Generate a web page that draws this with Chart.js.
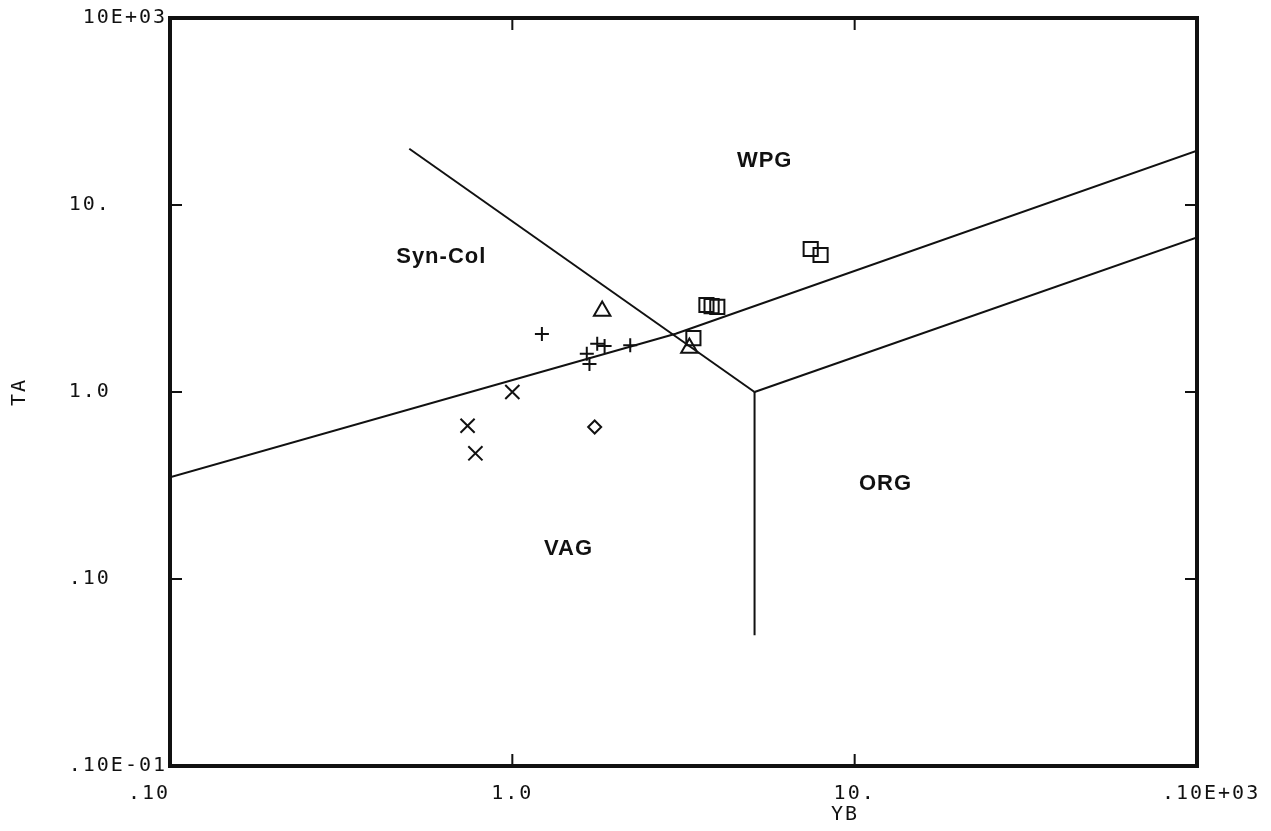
<!DOCTYPE html>
<html>
<head>
<meta charset="utf-8">
<script src="https://cdn.jsdelivr.net/npm/chart.js@4.4.0/dist/chart.umd.min.js"></script>
<style>
html, body { margin: 0; padding: 0; background: #fff; }
</style>
</head>
<body>
<canvas id="ta_yb" width="1271" height="831"></canvas>
<script>
// axis ticks and the labels the plotter printed for them
const xTicks = [0.1, 1, 10, 100]
const xTickLabels = ['.10', '1.0', '10.', '.10E+03']
const yTicks = [0.01, 0.1, 1, 10, 100]
const yTickLabels = ['.10E-01', '.10', '1.0', '10.', '10E+03']

// samples, one array for each marker
const crossPts = [{x: 0.74, y: 0.66}, {x: 0.78, y: 0.47}, {x: 1.0, y: 1.0}]
const plusPts = [{x: 1.22, y: 2.04}, {x: 1.77, y: 1.81}, {x: 1.86, y: 1.76},
                 {x: 2.21, y: 1.78}, {x: 1.65, y: 1.60}, {x: 1.68, y: 1.41}]
const trianglePts = [{x: 1.83, y: 2.71}, {x: 3.29, y: 1.72}]
const diamondPts = [{x: 1.74, y: 0.65}]
const squarePts = [{x: 3.38, y: 1.94}, {x: 3.69, y: 2.92}, {x: 3.82, y: 2.88},
                   {x: 3.97, y: 2.85}, {x: 7.44, y: 5.82}, {x: 7.95, y: 5.40}]

// field boundaries
const boundLower = [{x: 0.1, y: 0.35}, {x: 3, y: 2.05}, {x: 100, y: 19.5}]
const boundSynCol = [{x: 0.5, y: 20}, {x: 5.1, y: 1}]
const boundOrg = [{x: 5.1, y: 1}, {x: 100, y: 6.7}]
const boundVag = [{x: 5.1, y: 1}, {x: 5.1, y: 0.05}]

// field names and where they sit (data units)
const fieldNames = ['WPG', 'Syn-Col', 'VAG', 'ORG']
const fieldX = [5.46, 0.62, 1.46, 12.3]
const fieldY = [17.2, 5.27, 0.145, 0.322]

const ink = '#111'
const monoFont = {family: '"DejaVu Sans Mono", monospace', size: 20}

function boundary(pts) {
    return {
        data: pts, showLine: true, fill: false, tension: 0,
        borderColor: ink, borderWidth: 2, pointRadius: 0
    }
}

function marker(pts, style, r) {
    return {
        data: pts, showLine: false,
        pointStyle: style, pointRadius: r,
        pointBorderColor: ink, pointBackgroundColor: 'rgba(0,0,0,0)',
        pointBorderWidth: 2
    }
}

// pad the printed labels so they land where the plotter put them
const xPad = ['.10   ', '1.0', '10.', '  .10E+03']
function padRight7(s) { while (s.length < 7) s = s + ' '; return s }
function yLabel(t) {
    // labels without a leading point start one column in
    if (t.charAt(0) !== '.' && t.length > 3) t = ' ' + t
    return padRight7(t)
}

const framePlugin = {
    id: 'frame',
    beforeDraw(chart) {
        chart.ctx.letterSpacing = '2px'
    },
    afterDatasetsDraw(chart) {
        const ctx = chart.ctx
        const xs = chart.scales.x, ys = chart.scales.y
        ctx.save()
        ctx.letterSpacing = '1px'
        ctx.fillStyle = ink
        ctx.font = 'bold 22px "Liberation Sans", Arial, sans-serif'
        ctx.textAlign = 'center'
        ctx.textBaseline = 'middle'
        for (let i = 0; i < fieldNames.length; i++) {
            ctx.fillText(fieldNames[i], xs.getPixelForValue(fieldX[i]), ys.getPixelForValue(fieldY[i]))
        }
        ctx.restore()
    },
    afterDraw(chart) {
        const ctx = chart.ctx
        const a = chart.chartArea
        const xs = chart.scales.x, ys = chart.scales.y
        ctx.save()
        ctx.strokeStyle = ink
        // inward ticks at the inner decades
        ctx.lineWidth = 2
        ctx.beginPath()
        for (let i = 1; i < xTicks.length - 1; i++) {
            const px = xs.getPixelForValue(xTicks[i])
            ctx.moveTo(px, a.bottom); ctx.lineTo(px, a.bottom - 12)
            ctx.moveTo(px, a.top); ctx.lineTo(px, a.top + 12)
        }
        for (let i = 1; i < yTicks.length - 1; i++) {
            const py = ys.getPixelForValue(yTicks[i])
            ctx.moveTo(a.left, py); ctx.lineTo(a.left + 12, py)
            ctx.moveTo(a.right, py); ctx.lineTo(a.right - 12, py)
        }
        ctx.stroke()
        // heavy frame
        ctx.lineWidth = 4
        ctx.strokeRect(a.left, a.top, a.right - a.left, a.bottom - a.top)
        ctx.restore()
    }
}

const chart = new Chart(document.getElementById('ta_yb'), {
    type: 'scatter',
    data: {
        datasets: [
            boundary(boundLower),
            boundary(boundSynCol),
            boundary(boundOrg),
            boundary(boundVag),
            marker(crossPts, 'crossRot', 10),
            marker(plusPts, 'cross', 7),
            marker(trianglePts, 'triangle', 9.5),
            marker(diamondPts, 'rectRot', 6.5),
            marker(squarePts, 'rect', 10)
        ]
    },
    options: {
        responsive: false,
        animation: false,
        events: [],
        layout: {padding: {left: 0, right: 74, top: 18, bottom: 0}},
        plugins: {legend: {display: false}, tooltip: {enabled: false}},
        scales: {
            x: {
                type: 'logarithmic', position: 'bottom', min: 0.1, max: 100,
                grid: {display: false}, border: {display: false},
                afterBuildTicks: s => { s.ticks = xTicks.map(v => ({value: v})) },
                afterFit: s => { s.height = 65 },
                ticks: {
                    autoSkip: false, maxRotation: 0, padding: 8,
                    color: ink, font: monoFont,
                    callback: (v, i) => xPad[i]
                },
                // the plotter put the axis name under the 10 tick, not the middle
                title: {display: true, text: ' '.repeat(23) + 'YB', color: ink, font: monoFont, padding: {top: 0, bottom: 4}}
            },
            y: {
                type: 'logarithmic', position: 'left', min: 0.01, max: 100,
                grid: {display: false}, border: {display: false},
                afterBuildTicks: s => { s.ticks = yTicks.map(v => ({value: v})) },
                afterFit: s => { s.width = 170 },
                ticks: {
                    autoSkip: false, padding: -5, crossAlign: 'near',
                    color: ink, font: monoFont,
                    callback: (v, i) => yLabel(yTickLabels[i])
                },
                title: {display: true, text: 'TA', color: ink, font: monoFont, padding: {top: 8, bottom: 0}}
            }
        }
    },
    plugins: [framePlugin]
});
</script>
</body>
</html>
